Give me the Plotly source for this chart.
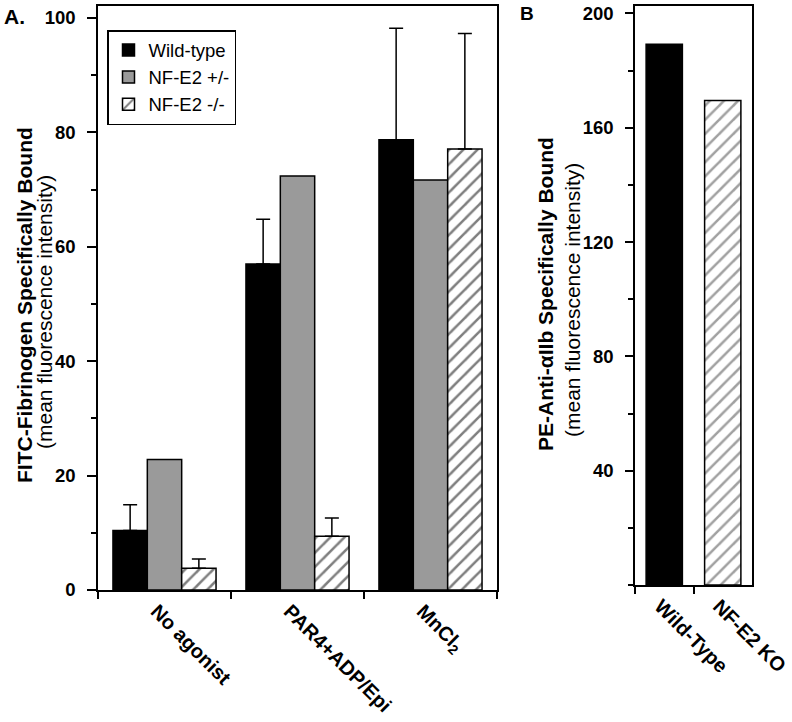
import plotly.graph_objects as go

# ---- data ----
cats_a = ["No agonist", "PAR4+ADP/Epi", "MnCl<sub>2</sub>"]
wild_vals = [10.4, 57.0, 78.7]
wild_err = [4.5, 7.8, 19.5]
het_vals = [22.8, 72.4, 71.7]
ko_vals = [3.8, 9.4, 77.1]
ko_err = [1.6, 3.2, 20.2]

cats_b = ["Wild-Type", "NF-E2 KO"]
vals_b = [189.2, 169.5]

yticks_a = [0, 20, 40, 60, 80, 100]
yticks_b = [40, 80, 120, 160, 200]

FONT = "Arial, Liberation Sans, sans-serif"
W, H = 792, 722

fig = go.Figure()

line = dict(color="black", width=1.5)
err_style = dict(type="data", symmetric=False, color="black", thickness=1.5, width=7)
hatch = dict(fgcolor="black", bgcolor="white", size=10, solidity=0.25)

fig.add_trace(go.Bar(
    x=cats_a, y=wild_vals, name="Wild-type",
    marker=dict(color="black", line=line),
    error_y=dict(array=wild_err, arrayminus=[0] * 3, **err_style),
    xaxis="x", yaxis="y"))
fig.add_trace(go.Bar(
    x=cats_a, y=het_vals, name="NF-E2 +/-",
    marker=dict(color="#9a9a9a", line=line),
    xaxis="x", yaxis="y"))
fig.add_trace(go.Bar(
    x=cats_a, y=ko_vals, name="NF-E2 -/-",
    marker=dict(color="white", line=line, pattern=dict(shape="/", **hatch)),
    error_y=dict(array=ko_err, arrayminus=[0] * 3, **err_style),
    xaxis="x", yaxis="y"))

fig.add_trace(go.Bar(
    x=cats_b, y=vals_b, showlegend=False, width=0.62,
    marker=dict(color=["black", "white"], line=line,
                pattern=dict(shape=["", "/"], **hatch)),
    xaxis="x2", yaxis="y2"))

axis_common = dict(showline=True, linecolor="black", linewidth=1.5, mirror=True,
                   showgrid=False, zeroline=False, ticks="outside", tickcolor="black",
                   tickwidth=1.5, automargin=False)
xfont = dict(size=20, family=FONT, weight="bold", color="black")
yfont = dict(size=18.5, family=FONT, weight="bold", color="black")

fig.update_layout(
    width=W, height=H, margin=dict(l=0, r=0, t=0, b=0, pad=0, autoexpand=False),
    paper_bgcolor="white", plot_bgcolor="white",
    barmode="group", bargap=0.225, bargroupgap=0,
    font=dict(family=FONT, color="black"),
    xaxis=dict(domain=[98 / W, 497 / W], anchor="y", tickson="boundaries", ticklen=7,
               tickangle=45, tickfont=xfont, ticklabelshift=-8, **axis_common),
    yaxis=dict(domain=[1 - 590 / H, 1 - 6 / H], anchor="x", range=[0, 102.1],
               tickvals=yticks_a, ticklen=9, ticklabelstandoff=8, tickfont=yfont,
               minor=dict(dtick=10, tick0=0, ticks="outside", ticklen=5, tickcolor="black", tickwidth=1.5),
               **axis_common),
    xaxis2=dict(domain=[635 / W, 752 / W], anchor="y2", tickson="boundaries", ticklen=7,
                tickangle=45, tickfont=xfont, ticklabelshift=-4, **axis_common),
    yaxis2=dict(domain=[1 - 585 / H, 1 - 6 / H], anchor="x2", range=[0, 202.6],
                tickvals=yticks_b, ticklen=8, ticklabelstandoff=8, tickfont=yfont,
                minor=dict(dtick=20, tick0=0, ticks="outside", ticklen=5, tickcolor="black", tickwidth=1.5),
                **axis_common),
    legend=dict(x=107 / W, y=1 - 30 / H, xanchor="left", yanchor="top",
                bordercolor="black", borderwidth=1.5, bgcolor="white",
                font=dict(size=18.5, family=FONT, color="black"), tracegroupgap=0),
)

ann = [
    dict(text="<b>A.</b>", x=2 / W, y=1 - 16 / H, xanchor="left", size=21),
    dict(text="<b>B</b>", x=518 / W, y=1 - 13 / H, xanchor="left", size=19),
    dict(text="<b>FITC-Fibrinogen Specifically Bound</b>", x=24 / W, y=1 - 305 / H, angle=-90, size=21),
    dict(text="(mean fluorescence intensity)", x=44 / W, y=1 - 312 / H, angle=-90, size=21),
    dict(text="<b>PE-Anti-αIIb Specifically Bound</b>", x=545 / W, y=1 - 294 / H, angle=-90, size=21),
    dict(text="(mean fluorescence intensity)", x=572 / W, y=1 - 300 / H, angle=-90, size=21),
]
for a in ann:
    fig.add_annotation(text=a["text"], x=a["x"], y=a["y"], xref="paper", yref="paper",
                       xanchor=a.get("xanchor", "center"), yanchor="middle",
                       textangle=a.get("angle", 0), showarrow=False,
                       font=dict(size=a["size"], family=FONT, color="black"))

fig.write_html("out.html", config={"displayModeBar": False},
               post_script="document.body.style.margin='0';")
